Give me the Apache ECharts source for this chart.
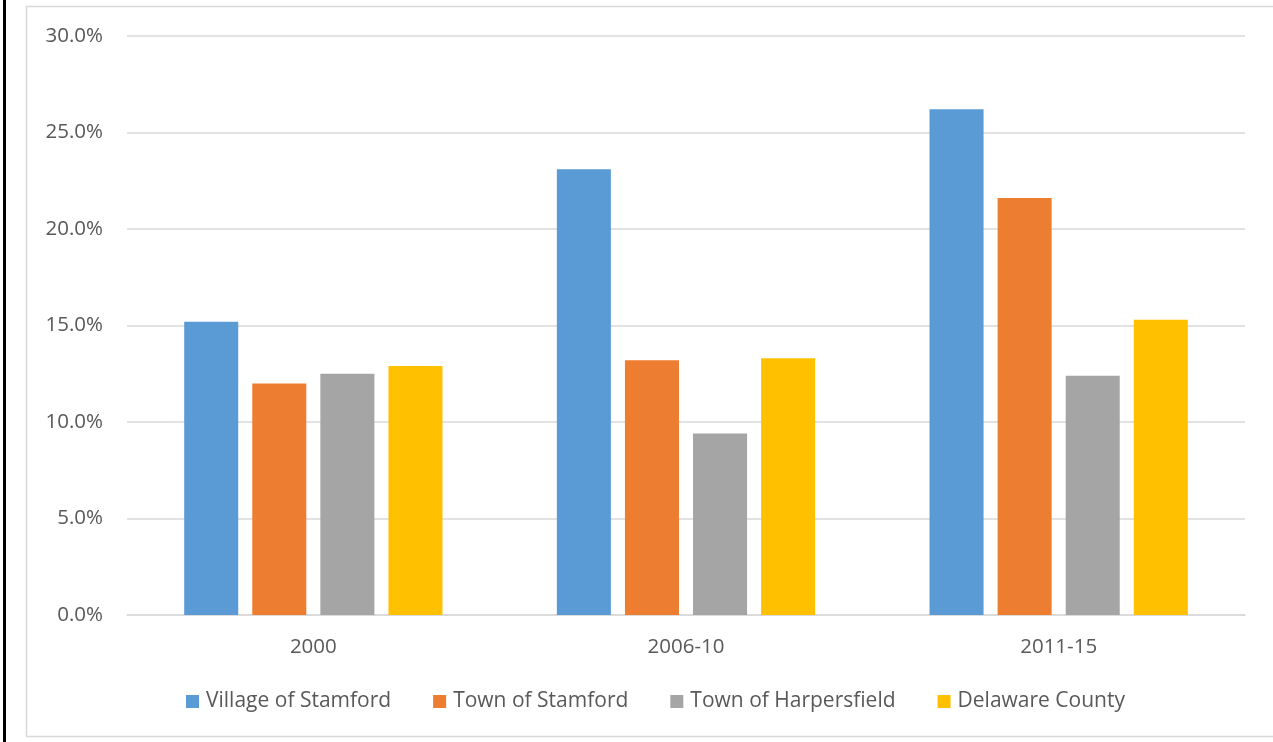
<!DOCTYPE html>
<html>
<head>
<meta charset="utf-8">
<script src="https://cdn.jsdelivr.net/npm/echarts@6/dist/echarts.min.js"></script>
<style>
  html, body { margin: 0; padding: 0; background: #fff; }
  #chart { width: 1273px; height: 742px; }
</style>
</head>
<body>
<div id="chart"></div>
<script>
// Periods along the x axis
const categories = ['2000', '2006-10', '2011-15'];

// Share (%) for each geography
const villageOfStamford   = [15.2, 23.1, 26.2];
const townOfStamford      = [12.0, 13.2, 21.6];
const townOfHarpersfield  = [12.5, 9.4, 12.4];
const delawareCounty      = [12.9, 13.3, 15.3];

const seriesNames = ['Village of Stamford', 'Town of Stamford', 'Town of Harpersfield', 'Delaware County'];
const seriesValues = [villageOfStamford, townOfStamford, townOfHarpersfield, delawareCounty];
const colors = ['#5b9bd5', '#ed7d31', '#a5a5a5', '#ffc000'];

const FONT = '"Open Sans", "Liberation Sans", sans-serif';
const TEXT = '#595959';

const chart = echarts.init(document.getElementById('chart'), null, { renderer: 'canvas' });

chart.setOption({
  animation: false,
  backgroundColor: '#ffffff',
  color: colors,
  textStyle: { fontFamily: FONT },
  graphic: [
    {
      type: 'rect',
      shape: { x: 26.5, y: 6.5, width: 1260, height: 730 },
      style: { fill: 'none', stroke: '#d9d9d9', lineWidth: 1.5 },
      silent: true
    },
    {
      type: 'rect',
      shape: { x: 3, y: 0, width: 3, height: 742 },
      style: { fill: '#000000' },
      silent: true
    }
  ],
  grid: { left: 127, right: 28, top: 36, bottom: 127, containLabel: false },
  legend: {
    left: 181,
    top: 686,
    itemWidth: 13,
    itemHeight: 13,
    itemGap: 42,
    icon: 'rect',
    textStyle: { color: TEXT, fontSize: 21, fontFamily: FONT, padding: [0, 0, 0, 2] },
    data: seriesNames
  },
  xAxis: {
    type: 'category',
    data: categories,
    axisLine: { show: true, lineStyle: { color: '#d9d9d9', width: 1.5 } },
    axisTick: { show: false },
    axisLabel: { color: TEXT, fontSize: 20.5, fontFamily: FONT, margin: 22 }
  },
  yAxis: {
    type: 'value',
    min: 0,
    max: 30,
    interval: 5,
    axisLine: { show: false },
    axisTick: { show: false },
    splitLine: { lineStyle: { color: '#d9d9d9', width: 1.5 } },
    axisLabel: {
      color: TEXT, fontSize: 20.5, fontFamily: FONT, margin: 24,
      formatter: v => v.toFixed(1) + '%'
    }
  },
  series: seriesNames.map((name, i) => ({
    name,
    type: 'bar',
    data: seriesValues[i],
    barWidth: '14.5%',
    barGap: '26%',
    itemStyle: { color: colors[i] }
  }))
});
</script>
</body>
</html>
